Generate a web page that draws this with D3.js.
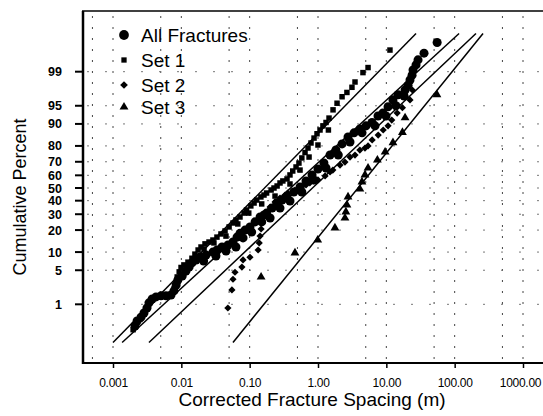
<!DOCTYPE html>
<html>
<head>
<meta charset="utf-8">
<script src="https://cdn.jsdelivr.net/npm/d3@7"></script>
<style>
  body { margin: 0; background: #fff; }
  svg { display: block; font-family: "Liberation Sans", Arial, sans-serif; }
</style>
</head>
<body>
<svg id="chart" width="543" height="416"></svg>
<script>
// spacing (m), cumulative percent
const allFractures = [
  [0.0021, 0.29], [0.00225, 0.39], [0.00257, 0.49], [0.00284, 0.62], [0.00314, 0.82],
  [0.00336, 1.08], [0.00374, 1.32], [0.00426, 1.47], [0.00504, 1.55], [0.00597, 1.55],
  [0.00706, 1.62], [0.0078, 1.98], [0.0084, 2.62], [0.0089, 3.29], [0.0103, 3.93],
  [0.0117, 4.85], [0.0130, 5.7], [0.0143, 6.7], [0.0164, 7.5], [0.0188, 8.4],
  [0.0230, 9.0], [0.0290, 10.0], [0.0333, 10.75], [0.0394, 11.9], [0.0482, 12.7],
  [0.0570, 14.0], [0.0653, 16.3], [0.0722, 18.2], [0.0855, 20.0], [0.101, 21.8],
  [0.120, 24.9], [0.142, 28.1], [0.162, 29.5], [0.177, 30.8], [0.213, 34.4],
  [0.252, 38.2], [0.298, 40.5], [0.352, 42.9], [0.442, 46.8], [0.546, 50.8],
  [0.668, 55.6], [0.818, 60.3], [0.999, 64.8], [1.22, 69.1], [1.5, 74.5],
  [1.83, 77.6], [2.25, 81.1], [2.75, 84.6], [3.37, 86.5], [4.12, 88.1],
  [5.04, 89.3], [6.17, 90.5], [7.55, 92.5], [8.89, 93.3], [10.6, 94.8],
  [12.5, 96.1], [14.9, 96.9], [18.8, 97.5], [20.8, 98.0], [22.2, 98.46],
  [23.8, 98.8], [24.6, 99.09], [27.2, 99.31], [29.1, 99.48], [35.6, 99.65], [55.4, 99.82],
  [0.0212, 7.2], [0.0321, 8.7], [0.0451, 10.4], [0.063, 11.9], [0.0800, 15.9],
  [0.107, 18.9], [0.150, 24.9], [0.199, 27.4], [0.278, 34.4], [0.389, 39.7],
  [0.58, 46.8], [0.87, 56.4], [1.31, 65.5], [1.98, 74.5], [2.94, 82.1],
  [4.41, 86.5], [6.83, 89.3], [9.9, 92.5], [13.8, 95.0], [18.2, 96.7]
];
const set1 = [
  [0.00197, 0.23], [0.00217, 0.33], [0.00248, 0.43], [0.00284, 0.58], [0.0033, 0.91],
  [0.0036, 1.18], [0.0041, 1.4], [0.00487, 1.47], [0.00577, 1.55], [0.00683, 1.62],
  [0.0078, 2.18], [0.0084, 2.88], [0.0087, 3.76], [0.0093, 4.67], [0.0099, 5.6],
  [0.0109, 6.2], [0.0125, 6.9], [0.0143, 8.0], [0.0158, 9.3], [0.0176, 10.75],
  [0.0194, 11.9], [0.0222, 13.2], [0.0254, 14.0], [0.029, 14.9], [0.0332, 16.3],
  [0.038, 17.9], [0.0436, 19.5], [0.050, 21.8], [0.057, 24.2], [0.063, 26.1],
  [0.0722, 28.1], [0.0827, 30.8], [0.090, 33.0], [0.104, 36.0], [0.116, 38.2],
  [0.127, 40.5], [0.146, 42.9], [0.162, 44.4], [0.177, 46.0], [0.206, 48.4],
  [0.227, 50.0], [0.252, 51.6], [0.278, 54.0], [0.306, 55.6], [0.352, 57.2],
  [0.389, 60.3], [0.427, 63.3], [0.477, 66.3], [0.526, 69.1], [0.58, 72.6],
  [0.646, 76.1], [0.714, 78.8], [0.79, 81.6], [0.875, 84.1], [0.967, 86.1],
  [1.07, 87.7], [1.18, 89.3], [1.31, 90.5], [1.45, 91.9], [1.66, 94.1],
  [1.9, 95.5], [2.25, 96.6], [2.65, 97.2], [3.14, 97.8], [3.48, 98.3],
  [4.55, 98.95], [5.4, 99.2], [11.3, 99.71],
  [0.0215, 11.1], [0.030, 13.6], [0.045, 16.8], [0.067, 23.6], [0.097, 30.8],
  [0.150, 37.5], [0.235, 43.6], [0.389, 53.2], [0.546, 64.0], [0.74, 73.2],
  [0.999, 80.5], [1.42, 87.7]
];
const set2 = [
  [0.048, 0.82], [0.055, 2.07], [0.057, 3.4], [0.061, 4.6], [0.077, 5.7],
  [0.080, 7.5], [0.101, 8.3], [0.133, 10.75], [0.138, 13.6], [0.142, 16.8],
  [0.147, 20.6], [0.150, 24.2], [0.168, 29.5], [0.199, 35.2], [0.235, 39],
  [0.278, 42], [0.329, 44.4], [0.36, 46], [0.46, 48.4], [0.58, 51.6], [0.668, 52.4],
  [0.76, 54], [0.87, 55.6], [1.0, 56.4], [1.27, 59.5], [1.5, 62.6], [1.65, 64],
  [2.1, 67.7], [2.48, 69.8], [2.94, 73.2], [3.48, 74.5], [4.1, 77.6], [4.87, 78.8],
  [5.4, 80], [6.2, 83.2], [7.6, 85.5], [9.0, 87.7],
  [10.6, 89.3], [12.0, 91.3], [14.4, 93.3], [17.2, 94.6], [22.2, 96.1], [24, 97.5]
];
const set3 = [
  [0.147, 3.75], [0.46, 9.7], [0.99, 14.9], [1.77, 21.2], [2.48, 27.4],
  [2.56, 31.6], [2.65, 36.7], [2.75, 42.9], [4.1, 49.2], [4.4, 54.8],
  [4.87, 60.3], [5.4, 65.5], [7.4, 71.2], [9.6, 76.4], [12.5, 81.8],
  [17.2, 86.7], [18.8, 92], [55, 96.9]
];
// fitted lognormal lines: spacing at 0.1 % and at 99.9 %
const fitLines = [
  [[0.001, 0.1], [27.2, 99.9]],
  [[0.00136, 0.1], [116, 99.9]],
  [[0.00336, 0.1], [205, 99.9]],
  [[0.057, 0.1], [260, 99.9]]
];
const yTicks = [1, 5, 10, 20, 30, 40, 50, 60, 70, 80, 90, 95, 99];
const xTicks = [0.001, 0.01, 0.1, 1, 10, 100, 1000];
const xTickLabels = ["0.001", "0.01", "0.10", "1.00", "10.00", "100.00", "1000.00"];
const xGrid = [0.0005, 0.001, 0.005, 0.01, 0.05, 0.1, 0.5, 1, 5, 10, 50, 100, 500, 1000];
const legendNames = ["All Fractures", "Set 1", "Set 2", "Set 3"];

// inverse normal cdf (Acklam)
function probit(p) {
  const a = [-3.969683028665376e+01, 2.209460984245205e+02, -2.759285104469687e+02, 1.383577518672690e+02, -3.066479806614716e+01, 2.506628277459239e+00];
  const b = [-5.447609879822406e+01, 1.615858368580409e+02, -1.556989798598866e+02, 6.680131188771972e+01, -1.328068155288572e+01];
  const c = [-7.784894002430293e-03, -3.223964580411365e-01, -2.400758277161838e+00, -2.549732539343734e+00, 4.374664141464968e+00, 2.938163982698783e+00];
  const d = [7.784695709041462e-03, 3.224671290700398e-01, 2.445134137142996e+00, 3.754408661907416e+00];
  const pl = 0.02425;
  let q, r;
  if (p < pl) {
    q = Math.sqrt(-2 * Math.log(p));
    return (((((c[0]*q+c[1])*q+c[2])*q+c[3])*q+c[4])*q+c[5]) / ((((d[0]*q+d[1])*q+d[2])*q+d[3])*q+1);
  }
  if (p > 1 - pl) {
    q = Math.sqrt(-2 * Math.log(1 - p));
    return -(((((c[0]*q+c[1])*q+c[2])*q+c[3])*q+c[4])*q+c[5]) / ((((d[0]*q+d[1])*q+d[2])*q+d[3])*q+1);
  }
  q = p - 0.5; r = q * q;
  return (((((a[0]*r+a[1])*r+a[2])*r+a[3])*r+a[4])*r+a[5])*q / (((((b[0]*r+b[1])*r+b[2])*r+b[3])*r+b[4])*r+1);
}

const svg = d3.select("#chart");
const plotLeft = 83, plotRight = 542, plotTop = 12, plotBottom = 363;

const x = d3.scaleLog().domain([0.001, 1000]).range([113, 523]);
const zScale = d3.scaleLinear().domain([-3.5, 3.5]).range([363, 13]);
const y = (pct) => zScale(probit(pct / 100));

// grid
svg.append("g").selectAll("line").data(xGrid).enter().append("line")
  .attr("x1", d => x(d)).attr("x2", d => x(d))
  .attr("y1", plotTop + 4).attr("y2", plotBottom - 4)
  .attr("stroke", "#444").attr("stroke-width", 1)
  .attr("stroke-dasharray", "2,9");
svg.append("g").selectAll("line").data(yTicks).enter().append("line")
  .attr("x1", plotLeft + 4).attr("x2", plotRight)
  .attr("y1", d => y(d)).attr("y2", d => y(d))
  .attr("stroke", "#777").attr("stroke-width", 1)
  .attr("stroke-dasharray", "2,16");

// fitted lines
svg.append("g").selectAll("line").data(fitLines).enter().append("line")
  .attr("x1", d => x(d[0][0])).attr("y1", d => y(d[0][1]))
  .attr("x2", d => x(d[1][0])).attr("y2", d => y(d[1][1]))
  .attr("stroke", "#000").attr("stroke-width", 1.5);

// markers (diamond = rotated square)
const sym = {
  circle: { p: d3.symbol().type(d3.symbolCircle).size(64), rot: 0 },
  square: { p: d3.symbol().type(d3.symbolSquare).size(30), rot: 0 },
  diamond: { p: d3.symbol().type(d3.symbolSquare).size(26), rot: 45 },
  triangle: { p: d3.symbol().type(d3.symbolTriangle).size(34), rot: 0 }
};
function drawSeries(data, shape) {
  svg.append("g").selectAll("path").data(data).enter().append("path")
    .attr("d", sym[shape].p)
    .attr("transform", d => `translate(${x(d[0])},${y(d[1])}) rotate(${sym[shape].rot})`)
    .attr("fill", "#000");
}
drawSeries(set3, "triangle");
drawSeries(set2, "diamond");
drawSeries(allFractures, "circle");
drawSeries(set1, "square");

// frame
svg.append("line").attr("x1", plotLeft).attr("x2", plotLeft).attr("y1", plotTop - 1).attr("y2", plotBottom + 1)
  .attr("stroke", "#000").attr("stroke-width", 2.5);
svg.append("line").attr("x1", plotLeft - 1).attr("x2", 543).attr("y1", plotBottom).attr("y2", plotBottom)
  .attr("stroke", "#000").attr("stroke-width", 2);
svg.append("line").attr("x1", plotLeft - 1).attr("x2", 543).attr("y1", plotTop - 1).attr("y2", plotTop - 1)
  .attr("stroke", "#000").attr("stroke-width", 1.6);

// y axis
const yAxis = svg.append("g");
yTicks.forEach(t => {
  yAxis.append("line").attr("x1", plotLeft - 8).attr("x2", plotLeft).attr("y1", y(t)).attr("y2", y(t))
    .attr("stroke", "#000").attr("stroke-width", 2);
  yAxis.append("text").attr("x", 62).attr("y", y(t)).attr("dy", "0.36em")
    .attr("text-anchor", "end").attr("font-size", 12.5).attr("font-weight", "bold")
    .text(t);
});

// x axis
const xAxis = svg.append("g").attr("transform", `translate(0,${plotBottom})`)
  .call(d3.axisBottom(x).tickValues(xTicks).tickSize(5).tickPadding(10)
    .tickFormat((d, i) => xTickLabels[i]));
xAxis.select(".domain").remove();
xAxis.selectAll(".tick line").attr("stroke-width", 1.5);
xAxis.selectAll("text").attr("font-size", 12).attr("letter-spacing", "-0.3px")
  .attr("font-family", "Liberation Sans, Arial, sans-serif");
xAxis.selectAll(".tick:last-of-type text").attr("dx", "-3");

// axis titles
svg.append("text").attr("x", 312).attr("y", 406).attr("text-anchor", "middle")
  .attr("font-size", 19).text("Corrected Fracture Spacing (m)");
svg.append("text").attr("transform", "translate(26,197) rotate(-90)").attr("text-anchor", "middle")
  .attr("font-size", 18).text("Cumulative Percent");

// legend
const legendShapes = ["circle", "square", "diamond", "triangle"];
const legendY = [35, 60, 85, 107];
const legendSym = {
  circle: { p: d3.symbol().type(d3.symbolCircle).size(75), rot: 0 },
  square: { p: d3.symbol().type(d3.symbolSquare).size(28), rot: 0 },
  diamond: { p: d3.symbol().type(d3.symbolSquare).size(30), rot: 45 },
  triangle: { p: d3.symbol().type(d3.symbolTriangle).size(34), rot: 0 }
};
legendNames.forEach((name, i) => {
  const s = legendSym[legendShapes[i]];
  svg.append("path").attr("d", s.p)
    .attr("transform", `translate(124,${legendY[i]}) rotate(${s.rot})`).attr("fill", "#000");
  svg.append("text").attr("x", 141).attr("y", legendY[i]).attr("dy", "0.36em")
    .attr("font-size", 19).text(name);
});
</script>
</body>
</html>
